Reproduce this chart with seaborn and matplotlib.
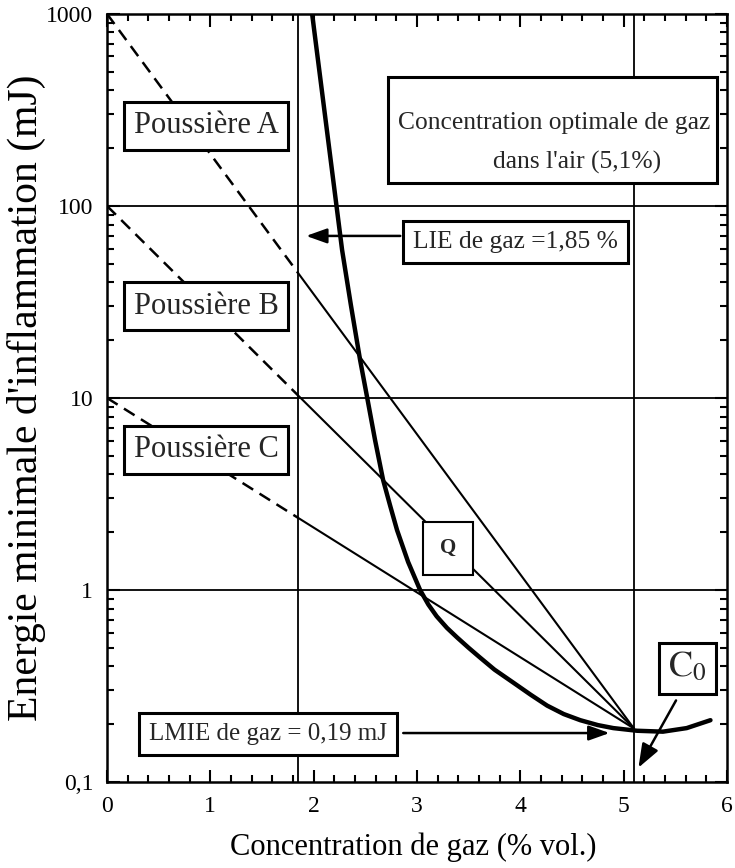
import numpy as np
import pandas as pd
import matplotlib.pyplot as plt
import seaborn as sns
from matplotlib.patches import Rectangle
from matplotlib.ticker import LogLocator, MultipleLocator, NullFormatter

# Gas ignition-energy curve
curve_x = [1.985, 2.13, 2.275, 2.36, 2.449, 2.517, 2.594, 2.672, 2.74, 2.807, 2.914, 3.03,
           3.11, 3.19, 3.29, 3.39, 3.50, 3.61, 3.75, 3.93, 4.10, 4.26, 4.42, 4.58,
           4.75, 4.90, 5.13, 5.38, 5.61, 5.84]
curve_y = [1000, 243, 59, 30.5, 15.8, 10.1, 6.04, 3.74, 2.75, 2.05, 1.40, 1.0,
           0.84, 0.73, 0.635, 0.565, 0.50, 0.445, 0.385, 0.33, 0.285, 0.25, 0.226, 0.21,
           0.198, 0.191, 0.185, 0.183, 0.191, 0.21]

# Dust lines: start value at 0 % gas, all ending at C0
dust_names = ["Poussière A", "Poussière B", "Poussière C"]
dust_start = [1000, 100, 10]
c0_x = 5.1
c0_y = 0.19
lie_x = 1.85

grid_y = [1, 10, 100]
x_ticks = [0, 1, 2, 3, 4, 5, 6]
y_ticks = [0.1, 1, 10, 100, 1000]
y_tick_labels = ["0,1", "1", "10", "100", "1000"]

sns.set_theme(style="ticks")
plt.rcParams['font.family'] = ['Liberation Serif', 'DejaVu Serif']
plt.rcParams['mathtext.fontset'] = 'stix'

fig = plt.figure(figsize=(7.35, 8.68), dpi=100)
ax = fig.add_axes([0.1456, 0.099, 0.8435, 0.885])
ax.set_yscale("log")

# reference grid lines
for g in grid_y:
    ax.axhline(g, color="black", lw=1.3, zorder=1)
ax.axvline(lie_x, color="black", lw=1.3, zorder=1)
ax.axvline(c0_x, color="black", lw=1.3, zorder=1)

# dust lines: dashed below the LIE, solid above
for start in dust_start:
    y_break = 10 ** np.interp(lie_x, [0, c0_x], np.log10([start, c0_y]))
    dashed = pd.DataFrame({"x": [0, lie_x], "y": [start, y_break]})
    solid = pd.DataFrame({"x": [lie_x, c0_x], "y": [y_break, c0_y]})
    sns.lineplot(data=dashed, x="x", y="y", ax=ax, color="black", lw=1.8,
                 linestyle=(0, (5, 3)), zorder=2)
    sns.lineplot(data=solid, x="x", y="y", ax=ax, color="black", lw=1.5, zorder=2)

curve = pd.DataFrame({"x": curve_x, "y": curve_y})
sns.lineplot(data=curve, x="x", y="y", ax=ax, color="black", lw=3.2, sort=False,
             solid_joinstyle="round", solid_capstyle="round", zorder=3)

ax.set_xlim(0, 6)
ax.set_ylim(0.1, 1000)
ax.set_xticks(x_ticks)
ax.xaxis.set_minor_locator(MultipleLocator(0.2))
ax.set_yticks(y_ticks)
ax.set_yticklabels(y_tick_labels)
ax.yaxis.set_minor_locator(LogLocator(base=10, subs=range(2, 10)))
ax.yaxis.set_minor_formatter(NullFormatter())
ax.tick_params(which="both", direction="in", top=True, right=True, width=1.5,
               color="black", labelsize=17, labelcolor="black")
ax.tick_params(which="major", length=9, pad=10)
ax.tick_params(which="minor", length=5)
for s in ax.spines.values():
    s.set_linewidth(1.8)
    s.set_color("black")

ax.set_xlabel("Concentration de gaz (% vol.)", fontsize=22, color="black")
ax.set_ylabel("Energie minimale d'inflammation (mJ)", fontsize=30, color="black")
ax.xaxis.set_label_coords(0.494, -0.066)
ax.yaxis.set_label_coords(-0.098, 0.5)

box = dict(boxstyle="square,pad=0.3", fc="white", ec="black", lw=2.2)
dust_label_y = [261, 30.1, 5.36]
for name, ly in zip(dust_names, dust_label_y):
    ax.text(0.958, ly, name, fontsize=22, ha="center", va="center", bbox=box, zorder=5)

ax.text(3.30, 1.65, "Q", fontsize=15, fontweight="bold", ha="center", va="center",
        bbox=dict(boxstyle="square,pad=0.8", fc="white", ec="black", lw=1.5), zorder=5)

# optimal concentration box
ax.add_patch(Rectangle((2.72, 131.8), 3.185, 470 - 131.8, fc="white", ec="black",
                       lw=2.2, zorder=5))
ax.text(4.33, 270, "Concentration optimale de gaz", fontsize=18.4, ha="center",
        va="center", zorder=6)
ax.text(4.55, 167.5, "dans l'air (5,1%)", fontsize=18.4, ha="center", va="center", zorder=6)

box2 = dict(boxstyle="square,pad=0.4", fc="white", ec="black", lw=2.2)
ax.text(3.95, 64.9, "LIE de gaz =1,85 %", fontsize=18.4, ha="center", va="center",
        bbox=box2, zorder=5)
ax.annotate("", xy=(1.90, 69.8), xytext=(2.865, 69.8),
            arrowprops=dict(arrowstyle="-|>,head_length=0.7,head_width=0.25",
                            color="black", lw=1.8, mutation_scale=18), zorder=4)

ax.text(1.56, 0.178, "LMIE de gaz = 0,19 mJ", fontsize=18, ha="center", va="center",
        bbox=box2, zorder=5)
ax.annotate("", xy=(4.89, 0.18), xytext=(2.84, 0.18),
            arrowprops=dict(arrowstyle="-|>,head_length=0.7,head_width=0.25",
                            color="black", lw=1.8, mutation_scale=18), zorder=4)

ax.text(5.62, 0.392, r"$\mathrm{C}_0$", fontsize=26, ha="center", va="center",
        bbox=dict(boxstyle="square,pad=0.25", fc="white", ec="black", lw=2.2), zorder=5)
ax.annotate("", xy=(5.13, 0.1155), xytext=(5.52, 0.274),
            arrowprops=dict(arrowstyle="-|>,head_length=0.8,head_width=0.3",
                            color="black", lw=1.8, mutation_scale=18), zorder=4)

fig.savefig("out.png", dpi=100)
